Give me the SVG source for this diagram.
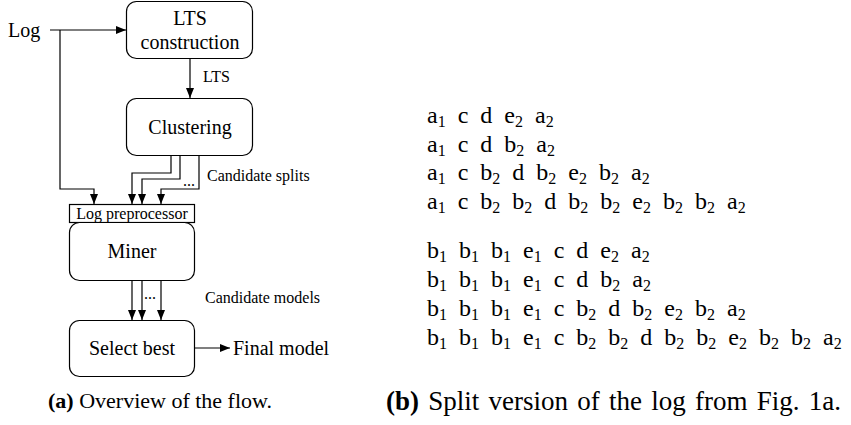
<svg xmlns="http://www.w3.org/2000/svg" width="851" height="425" viewBox="0 0 851 425" font-family="Liberation Serif, Times New Roman, serif">
<style>
text{font-family:"Liberation Serif","Times New Roman",serif;fill:#000}
.box{fill:#fff;stroke:#000;stroke-width:1.2}
.ln{fill:none;stroke:#000;stroke-width:1.2}
.big{font-size:20px}
.lab{font-size:16px}
.seq{font-size:24px;word-spacing:6px}
.capa{font-size:22px}
.capb{font-size:27px;word-spacing:2.5px}
.sub{font-size:16px}
</style>
<defs>
<marker id="ah" viewBox="0 0 10 8" refX="10" refY="4" markerWidth="10" markerHeight="8" markerUnits="userSpaceOnUse" orient="auto">
<path d="M0,0 L10,4 L0,8 z" fill="#000"/>
</marker>
</defs>
<g id="connectors">
<path class="ln" d="M50,30 H126" marker-end="url(#ah)"/>
<path class="ln" d="M60,30 V189 H94 V204" marker-end="url(#ah)"/>
<path class="ln" d="M190,58 V98" marker-end="url(#ah)"/>
<path class="ln" d="M171,156 V173 H132 V204" marker-end="url(#ah)"/>
<path class="ln" d="M180,156 V179 H142 V204" marker-end="url(#ah)"/>
<path class="ln" d="M199,156 V189 H161 V204" marker-end="url(#ah)"/>
<text class="lab" x="183" y="186">...</text>
<path class="ln" d="M132,281 V320" marker-end="url(#ah)"/>
<path class="ln" d="M142,281 V320" marker-end="url(#ah)"/>
<path class="ln" d="M161,281 V320" marker-end="url(#ah)"/>
<text class="lab" x="144" y="299">...</text>
<path class="ln" d="M195,348 H230" marker-end="url(#ah)"/>
<text class="lab" x="203" y="82">LTS</text>
<text class="lab" x="207" y="181">Candidate splits</text>
<text class="lab" x="205" y="303">Candidate models</text>
</g>
<g id="log"><text class="big" x="8" y="37">Log</text></g>
<g id="lts">
<rect class="box" x="126.5" y="1.5" width="126" height="57" rx="10"/>
<text class="big" x="190" y="25" text-anchor="middle">LTS</text>
<text class="big" x="190" y="49" text-anchor="middle">construction</text>
</g>
<g id="clustering">
<rect class="box" x="126.5" y="98.5" width="126" height="57" rx="10"/>
<text class="big" x="190" y="134" text-anchor="middle">Clustering</text>
</g>
<g id="preprocessor">
<rect class="box" x="69.5" y="204.5" width="125" height="18"/>
<text class="lab" x="132" y="218.5" text-anchor="middle">Log preprocessor</text>
</g>
<g id="miner">
<rect class="box" x="69.5" y="222.5" width="125" height="58" rx="10"/>
<text class="big" x="132" y="258" text-anchor="middle">Miner</text>
</g>
<g id="select">
<rect class="box" x="69.5" y="320.5" width="125" height="56" rx="10"/>
<text class="big" x="132" y="355" text-anchor="middle">Select best</text>
</g>
<g id="final"><text class="big" x="233" y="355">Final model</text></g>
<g id="traces">
<text class="seq" x="427" y="123">a<tspan class="sub" dy="4">1</tspan><tspan dy="-4"> c d e</tspan><tspan class="sub" dy="4">2</tspan><tspan dy="-4"> a</tspan><tspan class="sub" dy="4">2</tspan></text>
<text class="seq" x="427" y="152">a<tspan class="sub" dy="4">1</tspan><tspan dy="-4"> c d b</tspan><tspan class="sub" dy="4">2</tspan><tspan dy="-4"> a</tspan><tspan class="sub" dy="4">2</tspan></text>
<text class="seq" x="427" y="180">a<tspan class="sub" dy="4">1</tspan><tspan dy="-4"> c b</tspan><tspan class="sub" dy="4">2</tspan><tspan dy="-4"> d b</tspan><tspan class="sub" dy="4">2</tspan><tspan dy="-4"> e</tspan><tspan class="sub" dy="4">2</tspan><tspan dy="-4"> b</tspan><tspan class="sub" dy="4">2</tspan><tspan dy="-4"> a</tspan><tspan class="sub" dy="4">2</tspan></text>
<text class="seq" x="427" y="209">a<tspan class="sub" dy="4">1</tspan><tspan dy="-4"> c b</tspan><tspan class="sub" dy="4">2</tspan><tspan dy="-4"> b</tspan><tspan class="sub" dy="4">2</tspan><tspan dy="-4"> d b</tspan><tspan class="sub" dy="4">2</tspan><tspan dy="-4"> b</tspan><tspan class="sub" dy="4">2</tspan><tspan dy="-4"> e</tspan><tspan class="sub" dy="4">2</tspan><tspan dy="-4"> b</tspan><tspan class="sub" dy="4">2</tspan><tspan dy="-4"> b</tspan><tspan class="sub" dy="4">2</tspan><tspan dy="-4"> a</tspan><tspan class="sub" dy="4">2</tspan></text>
<text class="seq" x="427" y="258">b<tspan class="sub" dy="4">1</tspan><tspan dy="-4"> b</tspan><tspan class="sub" dy="4">1</tspan><tspan dy="-4"> b</tspan><tspan class="sub" dy="4">1</tspan><tspan dy="-4"> e</tspan><tspan class="sub" dy="4">1</tspan><tspan dy="-4"> c d e</tspan><tspan class="sub" dy="4">2</tspan><tspan dy="-4"> a</tspan><tspan class="sub" dy="4">2</tspan></text>
<text class="seq" x="427" y="287">b<tspan class="sub" dy="4">1</tspan><tspan dy="-4"> b</tspan><tspan class="sub" dy="4">1</tspan><tspan dy="-4"> b</tspan><tspan class="sub" dy="4">1</tspan><tspan dy="-4"> e</tspan><tspan class="sub" dy="4">1</tspan><tspan dy="-4"> c d b</tspan><tspan class="sub" dy="4">2</tspan><tspan dy="-4"> a</tspan><tspan class="sub" dy="4">2</tspan></text>
<text class="seq" x="427" y="316">b<tspan class="sub" dy="4">1</tspan><tspan dy="-4"> b</tspan><tspan class="sub" dy="4">1</tspan><tspan dy="-4"> b</tspan><tspan class="sub" dy="4">1</tspan><tspan dy="-4"> e</tspan><tspan class="sub" dy="4">1</tspan><tspan dy="-4"> c b</tspan><tspan class="sub" dy="4">2</tspan><tspan dy="-4"> d b</tspan><tspan class="sub" dy="4">2</tspan><tspan dy="-4"> e</tspan><tspan class="sub" dy="4">2</tspan><tspan dy="-4"> b</tspan><tspan class="sub" dy="4">2</tspan><tspan dy="-4"> a</tspan><tspan class="sub" dy="4">2</tspan></text>
<text class="seq" x="427" y="345">b<tspan class="sub" dy="4">1</tspan><tspan dy="-4"> b</tspan><tspan class="sub" dy="4">1</tspan><tspan dy="-4"> b</tspan><tspan class="sub" dy="4">1</tspan><tspan dy="-4"> e</tspan><tspan class="sub" dy="4">1</tspan><tspan dy="-4"> c b</tspan><tspan class="sub" dy="4">2</tspan><tspan dy="-4"> b</tspan><tspan class="sub" dy="4">2</tspan><tspan dy="-4"> d b</tspan><tspan class="sub" dy="4">2</tspan><tspan dy="-4"> b</tspan><tspan class="sub" dy="4">2</tspan><tspan dy="-4"> e</tspan><tspan class="sub" dy="4">2</tspan><tspan dy="-4"> b</tspan><tspan class="sub" dy="4">2</tspan><tspan dy="-4"> b</tspan><tspan class="sub" dy="4">2</tspan><tspan dy="-4"> a</tspan><tspan class="sub" dy="4">2</tspan></text>
</g>
<g id="captions">
<text class="capa" x="48" y="408"><tspan font-weight="bold">(a)</tspan> Overview of the flow.</text>
<text class="capb" x="386" y="410"><tspan font-weight="bold">(b)</tspan> Split version of the log from Fig. 1a.</text>
</g>
</svg>
